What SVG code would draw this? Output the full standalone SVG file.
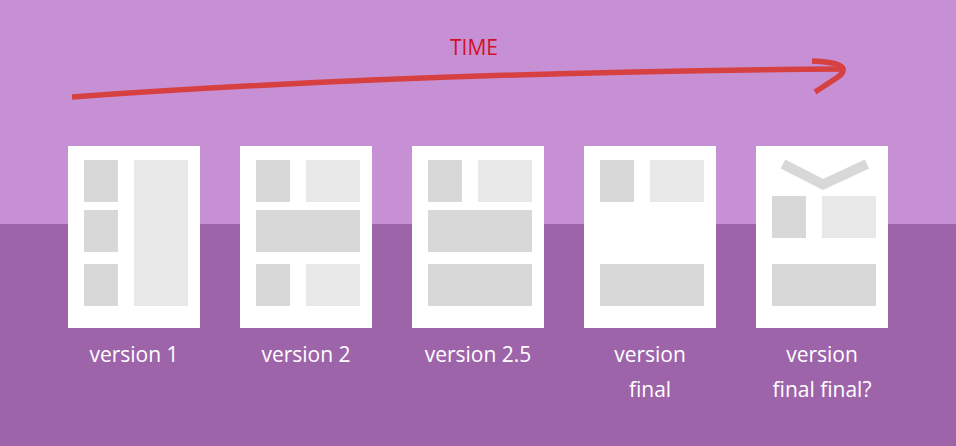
<svg xmlns="http://www.w3.org/2000/svg" width="956" height="446" viewBox="0 0 956 446">
<style>
.pg{fill:#ffffff}
.d{fill:#d8d8d8}
.l{fill:#e8e8e8}
.lbl{font-family:"Open Sans","Liberation Sans",sans-serif;font-size:21px;fill:#ffffff;text-anchor:middle}
.time{font-family:"Open Sans","Liberation Sans",sans-serif;font-size:21px;fill:#d0102a;text-anchor:middle}
.arrow{fill:none;stroke:#d64040;stroke-width:5.5;stroke-linecap:butt;stroke-linejoin:miter}
</style>
<rect x="0" y="0" width="956" height="224" fill="#c890d4"/>
<rect x="0" y="224" width="956" height="222" fill="#9e64aa"/>
<g id="connectors">
<path class="arrow" d="M72,97 Q420,72 842,69"/>
<path class="arrow" d="M812,61 C836,62 852,66 838,77 L815,92"/>
<text class="time" x="474" y="55">TIME</text>
</g>
<g id="v1">
<rect class="pg" x="68" y="146" width="132" height="182"/>
<rect class="d" x="84" y="160" width="34" height="42"/>
<rect class="d" x="84" y="210" width="34" height="42"/>
<rect class="d" x="84" y="264" width="34" height="42"/>
<rect class="l" x="134" y="160" width="54" height="146"/>
<text class="lbl" x="134" y="362">version 1</text>
</g>
<g id="v2">
<rect class="pg" x="240" y="146" width="132" height="182"/>
<rect class="d" x="256" y="160" width="34" height="42"/>
<rect class="l" x="306" y="160" width="54" height="42"/>
<rect class="d" x="256" y="210" width="104" height="42"/>
<rect class="d" x="256" y="264" width="34" height="42"/>
<rect class="l" x="306" y="264" width="54" height="42"/>
<text class="lbl" x="306" y="362">version 2</text>
</g>
<g id="v25">
<rect class="pg" x="412" y="146" width="132" height="182"/>
<rect class="d" x="428" y="160" width="34" height="42"/>
<rect class="l" x="478" y="160" width="54" height="42"/>
<rect class="d" x="428" y="210" width="104" height="42"/>
<rect class="d" x="428" y="264" width="104" height="42"/>
<text class="lbl" x="478" y="362">version 2.5</text>
</g>
<g id="vfinal">
<rect class="pg" x="584" y="146" width="132" height="182"/>
<rect class="d" x="600" y="160" width="34" height="42"/>
<rect class="l" x="650" y="160" width="54" height="42"/>
<rect class="d" x="600" y="264" width="104" height="42"/>
<text class="lbl" x="650" y="362">version</text>
<text class="lbl" x="650" y="397">final</text>
</g>
<g id="vfinalfinal">
<rect class="pg" x="756" y="146" width="132" height="182"/>
<polyline points="783,164 823,184.5 867,164" fill="none" stroke="#d8d8d8" stroke-width="10"/>
<rect class="d" x="772" y="196" width="34" height="42"/>
<rect class="l" x="822" y="196" width="54" height="42"/>
<rect class="d" x="772" y="264" width="104" height="42"/>
<text class="lbl" x="822" y="362">version</text>
<text class="lbl" x="822" y="397">final final?</text>
</g>
</svg>
